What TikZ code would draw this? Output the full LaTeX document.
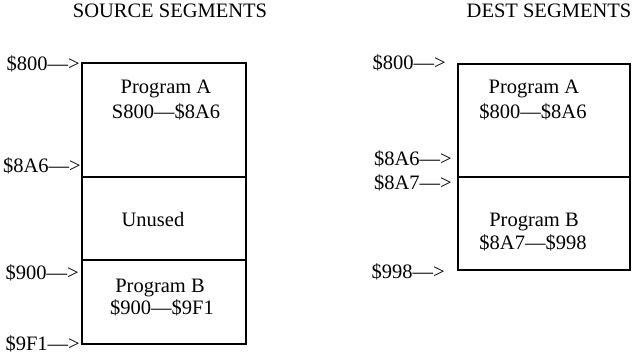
\documentclass[tikz,border=0pt]{standalone}
\usepackage{fontspec}
\setmainfont{Liberation Serif}
\begin{document}
\begin{tikzpicture}[x=1pt,y=-1pt,
  seg/.style={draw, line width=2pt, rectangle, anchor=north west,
              inner sep=0pt, outer sep=0pt},
  txt/.style={font=\fontsize{20.5}{24}\selectfont, inner sep=0pt, anchor=base},
  addr/.style={txt, anchor=base east}]
\useasboundingbox (0,0) rectangle (632,355);

% column titles
\node[txt] (srctitle) at (170,18) {SOURCE SEGMENTS};
\node[txt] (dsttitle) at (549,18) {DEST SEGMENTS};

% source memory map
\node[seg, minimum width=164pt, minimum height=114pt] (srcA) at (82,63) {};
\node[seg, minimum width=164pt, minimum height=83pt]  (srcU) at (82,177) {};
\node[seg, minimum width=164pt, minimum height=84pt]  (srcB) at (82,260) {};

\node[txt] (srcAname)  at (166,94)  {Program A};
\node[txt] (srcArange) at (166,119) {S800—\$8A6};
\node[txt] (srcUname)  at (153,227) {Unused};
\node[txt] (srcBname)  at (160,293) {Program B};
\node[txt] (srcBrange) at (162,315) {\$900—\$9F1};

\node[addr] (s800) at (80,71)  {\$800—>};
\node[addr] (s8A6) at (81,173) {\$8A6—>};
\node[addr] (s900) at (79,280) {\$900—>};
\node[addr] (s9F1) at (80,351) {\$9F1—>};

% destination memory map
\node[seg, minimum width=172pt, minimum height=113pt] (dstA) at (458,64) {};
\node[seg, minimum width=172pt, minimum height=93pt]  (dstB) at (458,177) {};

\node[txt] (dstAname)  at (534,94)  {Program A};
\node[txt] (dstArange) at (533,119) {\$800—\$8A6};
\node[txt] (dstBname)  at (534,227) {Program B};
\node[txt] (dstBrange) at (533,250) {\$8A7—\$998};

\node[addr] (d800) at (446,70)  {\$800—>};
\node[addr] (d8A6) at (452,166) {\$8A6—>};
\node[addr] (d8A7) at (452,190) {\$8A7—>};
\node[addr] (d998) at (445,279) {\$998—>};
\end{tikzpicture}
\end{document}
